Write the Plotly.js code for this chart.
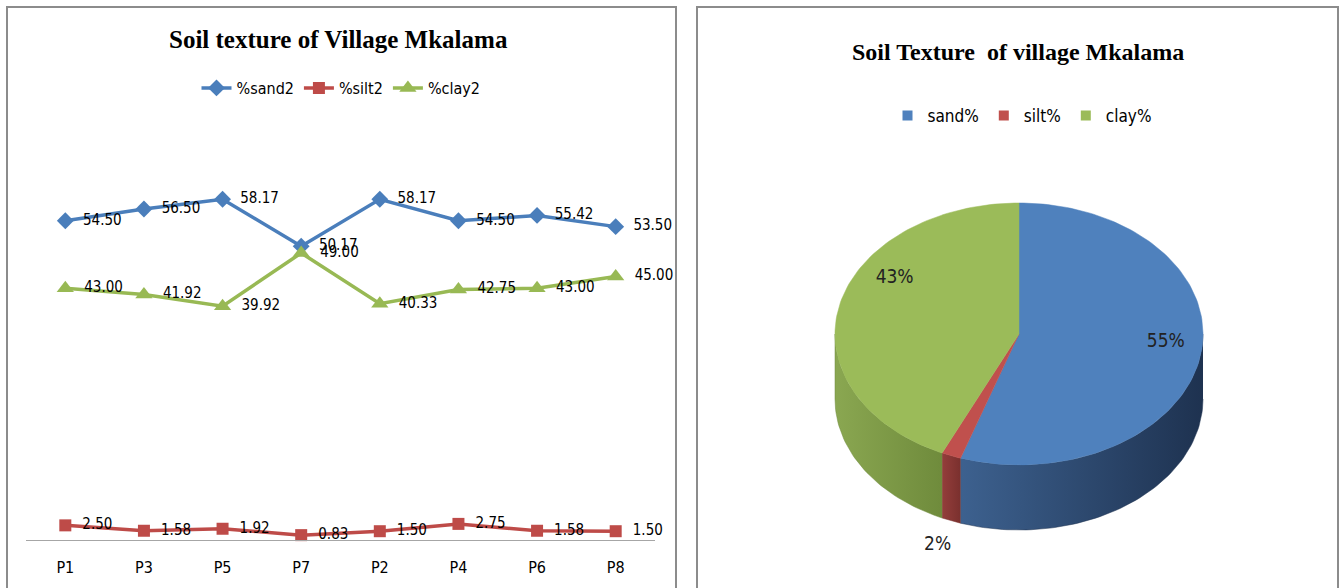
<!DOCTYPE html>
<html>
<head>
<meta charset="utf-8">
<script src="https://cdn.plot.ly/plotly-3.0.1.min.js"></script>
<style>html,body{margin:0;padding:0;background:#fff;}#chart{width:1344px;height:588px;}</style>
</head>
<body>
<div id="chart"></div>
<script>
// ---- data ----
const categories = ['P1', 'P3', 'P5', 'P7', 'P2', 'P4', 'P6', 'P8'];
const sand2 = [54.50, 56.50, 58.17, 50.17, 58.17, 54.50, 55.42, 53.50];
const silt2 = [2.50, 1.58, 1.92, 0.83, 1.50, 2.75, 1.58, 1.50];
const clay2 = [43.00, 41.92, 39.92, 49.00, 40.33, 42.75, 43.00, 45.00];
const lineNames = ['%sand2', '%silt2', '%clay2'];
const pieLabels = ['sand%', 'silt%', 'clay%'];
const pieValues = [55.12, 1.71, 43.12];

// ---- styles ----
const W = 1344, H = 588;
const px = v => v / W, py = v => 1 - v / H;
const lineColors = ['#4a7ebb', '#be4b48', '#98b954'];
const markerSymbols = ['diamond', 'square', 'triangle-up'];
const markerSizes = [13, 12, 15];
const topColors = ['#4f81bd', '#c0504d', '#9bbb59'];
const sideGrad = [['#3d618f', '#1e3250'], ['#943e3b', '#7a302e'], ['#8aa751', '#6f8b3c']];
const narrow = 'DejaVu Sans Condensed, Liberation Sans Narrow, Arial Narrow, sans-serif';
const RX = 184, RY = 131, DEPTH = 65;
const labelRadius = [0.8, 1.2, 0.8];
const labelShift = [-5, 0, 20];
const labelOnBottom = [false, true, false];

const traces = [];
[sand2, silt2, clay2].forEach((vals, i) => {
  traces.push({
    type: 'scatter', x: categories, y: vals, name: lineNames[i],
    mode: 'lines+markers+text',
    text: vals.map(v => '\u00a0\u00a0' + v.toFixed(2)), textposition: 'middle right',
    textfont: {family: narrow, size: 15, color: '#000'},
    line: {color: lineColors[i], width: 3.5},
    marker: {symbol: markerSymbols[i], size: markerSizes[i], color: lineColors[i]},
    cliponaxis: false, xaxis: 'x', yaxis: 'y', legend: 'legend', hoverinfo: 'x+y'
  });
});

// ---- 3D-style pie geometry built from pieValues ----
const total = pieValues.reduce((a, b) => a + b, 0);
function pt(theta, dy) {
  const r = theta * Math.PI / 180;
  return [RX * Math.sin(r), RY * Math.cos(r) + dy];
}
function arc(t1, t2, dy) {
  const n = Math.max(2, Math.ceil(Math.abs(t2 - t1) / 1.5));
  const xs = [], ys = [];
  for (let k = 0; k <= n; k++) {
    const p = pt(t1 + (t2 - t1) * k / n, dy);
    xs.push(p[0]); ys.push(p[1]);
  }
  return [xs, ys];
}
const slices = [];
let acc = 0;
pieValues.forEach((v, i) => {
  const t1 = acc / total * 360; acc += v;
  const t2 = acc / total * 360;
  slices.push([t1, t2]);
});
// sides (front half: 90..270 deg)
slices.forEach(([t1, t2], i) => {
  const a = Math.max(t1, 90), b = Math.min(t2, 270);
  if (b <= a) return;
  const top = arc(a, b, 0), bot = arc(b, a, -DEPTH);
  traces.push({
    type: 'scatter', xaxis: 'x2', yaxis: 'y2', mode: 'lines', showlegend: false, hoverinfo: 'skip',
    x: top[0].concat(bot[0]), y: top[1].concat(bot[1]), fill: 'toself',
    line: {width: 0.5, color: sideGrad[i][1]},
    fillcolor: sideGrad[i][0],
    fillgradient: {type: 'horizontal', colorscale: [[0, sideGrad[i][0]], [1, sideGrad[i][1]]]}
  });
});
// top faces
slices.forEach(([t1, t2], i) => {
  const a = arc(t1, t2, 0);
  traces.push({
    type: 'scatter', xaxis: 'x2', yaxis: 'y2', mode: 'lines', showlegend: false,
    name: pieLabels[i], hoverinfo: 'name',
    x: [0].concat(a[0], [0]), y: [0].concat(a[1], [0]), fill: 'toself',
    line: {width: 0.5, color: topColors[i]}, fillcolor: topColors[i]
  });
});
// percentage labels
const lx = [], ly = [], lt = [];
slices.forEach(([t1, t2], i) => {
  const mid = (t1 + t2) / 2 + labelShift[i];
  const r = mid * Math.PI / 180;
  lx.push(RX * labelRadius[i] * Math.sin(r));
  ly.push(RY * labelRadius[i] * Math.cos(r) - (labelOnBottom[i] ? DEPTH : 0));
  lt.push(Math.round(pieValues[i] / total * 100) + '%');
});
traces.push({
  type: 'scatter', xaxis: 'x2', yaxis: 'y2', mode: 'text', x: lx, y: ly, text: lt,
  textfont: {family: narrow, size: 19, color: '#222'}, showlegend: false, hoverinfo: 'skip', cliponaxis: false
});
// legend entries for the pie
pieLabels.forEach((lab, i) => {
  traces.push({
    type: 'scatter', xaxis: 'x2', yaxis: 'y2', mode: 'markers', x: [null], y: [null], name: lab,
    marker: {symbol: 'square', size: 10, color: topColors[i]}, legend: 'legend2'
  });
});

const layout = {
  width: W, height: H, margin: {l: 0, r: 0, t: 0, b: 0},
  paper_bgcolor: '#fff', plot_bgcolor: 'rgba(0,0,0,0)',
  showlegend: true,
  xaxis: {
    domain: [px(26), px(655)], type: 'category', range: [-0.5, 7.5],
    showline: true, linecolor: '#a6a6a6', linewidth: 1, showgrid: false, zeroline: false,
    ticks: '', ticklabelstandoff: 13,
    tickfont: {family: narrow, size: 16, color: '#000'}, fixedrange: true
  },
  yaxis: {
    domain: [py(540), py(130)], range: [0, 70], visible: false, fixedrange: true
  },
  xaxis2: {domain: [px(697), px(1338)], range: [-322, 319], visible: false, fixedrange: true},
  yaxis2: {domain: [py(588), py(140)], range: [-254, 194], visible: false, fixedrange: true},
  legend: {
    orientation: 'h', x: px(341), xanchor: 'center', y: py(88), yanchor: 'middle',
    font: {family: narrow, size: 16, color: '#000'}, bgcolor: 'rgba(0,0,0,0)'
  },
  legend2: {
    orientation: 'h', x: px(1022), xanchor: 'center', y: py(116), yanchor: 'middle',
    font: {family: narrow, size: 17, color: '#000'}, itemwidth: 30, bgcolor: 'rgba(0,0,0,0)'
  },
  annotations: [
    {xref: 'paper', yref: 'paper', x: px(338), y: py(40), xanchor: 'center', yanchor: 'middle',
     text: 'Soil texture of Village Mkalama', showarrow: false,
     font: {family: 'Liberation Serif, Times New Roman, serif', size: 25, weight: 700, color: '#000'}},
    {xref: 'paper', yref: 'paper', x: px(1018), y: py(52), xanchor: 'center', yanchor: 'middle',
     text: 'Soil Texture  of village Mkalama', showarrow: false,
     font: {family: 'Liberation Serif, Times New Roman, serif', size: 24, weight: 700, color: '#000'}}
  ],
  shapes: [
    {type: 'rect', xref: 'paper', yref: 'paper', x0: px(7), x1: px(676), y0: py(610), y1: py(7),
     line: {color: '#8c8c8c', width: 2}, layer: 'below'},
    {type: 'rect', xref: 'paper', yref: 'paper', x0: px(697), x1: px(1338), y0: py(610), y1: py(7),
     line: {color: '#8c8c8c', width: 2}, layer: 'below'}
  ]
};

Plotly.newPlot('chart', traces, layout, {displayModeBar: false, staticPlot: true});
</script>
</body>
</html>
